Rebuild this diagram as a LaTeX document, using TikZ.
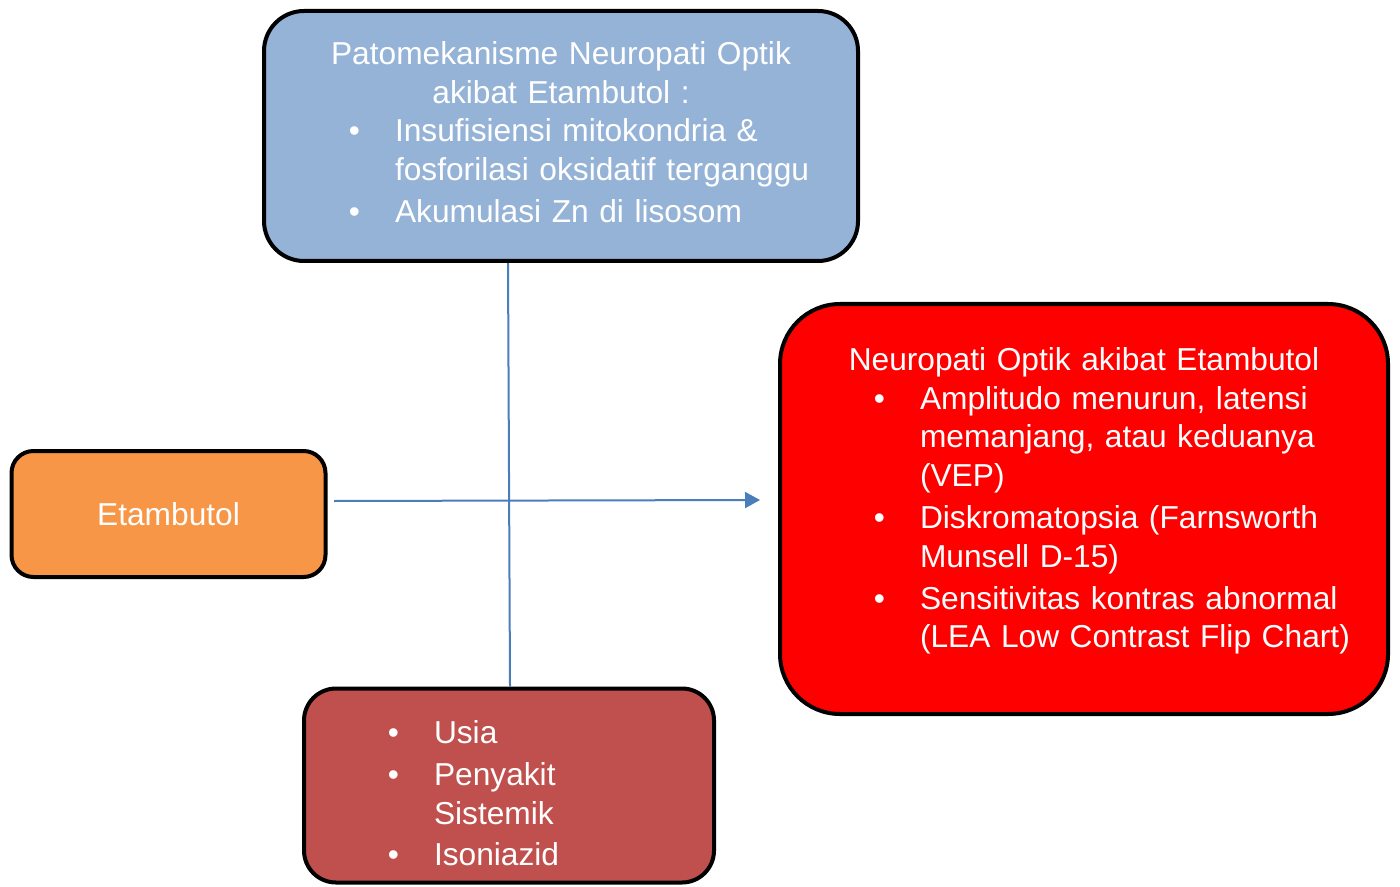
\documentclass[tikz,border=0pt]{standalone}
\usepackage{fontspec}
\setmainfont{Liberation Sans}
\usepackage{xcolor}
\usetikzlibrary{arrows.meta, positioning}

\definecolor{mechblue}{HTML}{95B3D7}
\definecolor{drugorange}{HTML}{F79646}
\definecolor{riskred}{HTML}{C0504D}
\definecolor{linkblue}{HTML}{4A7EBB}

% bullet list used inside the boxes
\newenvironment{bullets}[1]{%
  \raggedright
  \begin{list}{\textbullet}{%
    \setlength{\leftmargin}{#1}\setlength{\labelwidth}{10pt}%
    \setlength{\labelsep}{17.5pt}\setlength{\itemsep}{1.5pt}%
    \setlength{\parsep}{0pt}\setlength{\topsep}{0pt}%
    \setlength{\partopsep}{0pt}}}{\end{list}}

\begin{document}
\begin{tikzpicture}[
    x=0.5pt, y=-0.5pt,
    box/.style={draw=black, line width=2pt, inner xsep=0pt, inner ysep=4pt,
      align=left, text=white, font=\fontsize{15.85pt}{19.4pt}\selectfont},
    link/.style={draw=linkblue, line width=1pt}
]
\useasboundingbox (0,0) rectangle (1400,887);

\node[box, fill=mechblue, rounded corners=20pt, text width=297pt,
  minimum height=125pt] (mechanism) at (561,136) {%
  {\centering Patomekanisme Neuropati Optik\\akibat Etambutol :\par}
  \begin{bullets}{65.5pt}
    \item Insufisiensi mitokondria \&\newline fosforilasi oksidatif terganggu
    \item Akumulasi Zn di lisosom
  \end{bullets}\par\kern4pt};

\node[box, fill=drugorange, rounded corners=11pt, text width=157pt,
  align=center, minimum height=63pt] (ethambutol) at (168.5,514) {Etambutol};

\node[box, fill=red, rounded corners=30pt, text width=304pt,
  minimum height=205pt] (neuropathy) at (1084,509) {%
  {\centering Neuropati Optik akibat Etambutol\par}
  \begin{bullets}{70pt}
    \item Amplitudo menurun, latensi\newline memanjang, atau keduanya\newline (VEP)
    \item Diskromatopsia (Farnsworth\newline Munsell D-15)
    \item Sensitivitas kontras abnormal\newline (LEA Low Contrast Flip Chart)
  \end{bullets}\par\kern8pt};

\node[box, fill=riskred, rounded corners=16pt, text width=205pt,
  minimum height=97pt] (risk) at (509,785.5) {%
  \begin{bullets}{65pt}
    \item Usia
    \item Penyakit\newline Sistemik
    \item Isoniazid
  \end{bullets}};

\coordinate (vtop) at (508,0);
\coordinate (vbot) at (510,0);
\coordinate (hstart) at (334,501);
\coordinate (hend) at (760,500);

\draw[link] (mechanism.south -| vtop) -- (risk.north -| vbot);
\draw[link, -{Triangle[length=7.5pt, width=8pt]}] (hstart) -- (hend);
\end{tikzpicture}
\end{document}
